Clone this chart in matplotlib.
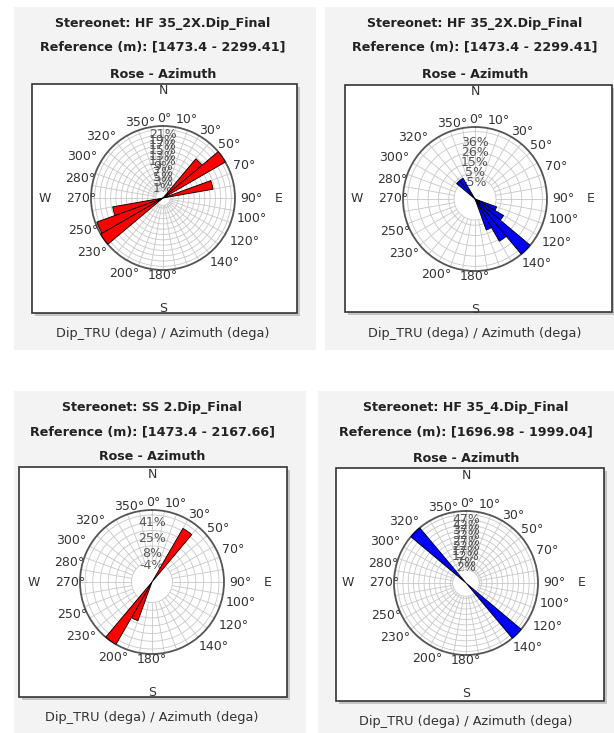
import numpy as np
import matplotlib.pyplot as plt
from matplotlib.patches import Rectangle

# --- panel text -------------------------------------------------------------
titles = ["Stereonet: HF 35_2X.Dip_Final", "Stereonet: HF 35_2X.Dip_Final",
          "Stereonet: SS 2.Dip_Final", "Stereonet: HF 35_4.Dip_Final"]
ref_ranges = ["Reference (m): [1473.4 - 2299.41]", "Reference (m): [1473.4 - 2299.41]",
              "Reference (m): [1473.4 - 2167.66]", "Reference (m): [1696.98 - 1999.04]"]
subtitle = "Dip_TRU (dega) / Azimuth (dega)"

# --- rose data: bin start azimuth (deg) and frequency (%) --------------------
rose1_bins = [40, 50, 70, 230, 240, 250]
rose1_freq = [16.5, 24.4, 16.4, 24.4, 23.8, 16.5]

rose2_bins = [110, 120, 130, 140, 150, 310, 320]
rose2_freq = [2.0, 12.0, 51.0, 27.7, 12.0, 3.0, 3.0]

rose3_bins = [30, 200, 210]
rose3_freq = [44.0, 22.0, 54.8]

rose4_bins = [130, 310]
rose4_freq = [55.4, 55.4]

# ring labels (%) on each rose, and the ring spacing
rose1_rings = [1, 3, 5, 7, 9, 11, 13, 15, 17, 19, 21]
rose2_rings = [-5, 5, 15, 26, 36]
rose3_rings = [-4, 8, 25, 41]
rose4_rings = [2, 7, 12, 17, 22, 27, 32, 37, 42, 47]
ring_steps = [2.0, 10.3, 8.25, 5.0]
ring_starts = [1.0, 5.2, 8.25, 2.0]

# azimuth labels around the net
azi_labels = ["350°", "0°", "10°", "30°", "50°", "70°", "90°", "100°", "120°",
              "140°", "180°", "200°", "230°", "250°", "270°", "280°", "300°", "320°"]

# --- layout (pixels, origin top-left) ----------------------------------------
W, H = 614, 733
fig = plt.figure(figsize=(W / 100, H / 100), dpi=100)
fig.patch.set_facecolor("white")


def fx(x):
    return x / W


def fy(y):
    return 1 - y / H


def rect(x0, y0, x1, y1, **kw):
    fig.patches.append(Rectangle((fx(x0), fy(y1)), fx(x1) - fx(x0), fy(y0) - fy(y1),
                                 transform=fig.transFigure, **kw))


gray_boxes = [(14, 7, 316, 350), (325, 7, 614, 350), (14, 391, 306, 733), (318, 391, 614, 733)]
plot_boxes = [(32, 84, 297, 313), (345, 85, 612, 312), (19, 467, 287, 697), (336, 468, 604, 701)]
centers = [(163, 198), (475, 199), (152, 582), (466, 583)]
title_y = [(24, 47, 74), (24, 47, 74), (407, 432, 457), (408, 432, 458)]
sub_y = [333, 333, 717, 722]
RADIUS = 72

# (px per %, px radius of 0 %)
scales = [(2.65, 7.35), (1.0, 21.0), (0.94, 20.5), (1.06, 13.3)]
colors = ["#ff0000", "#0000ff", "#ff0000", "#0000ff"]
bins = [rose1_bins, rose2_bins, rose3_bins, rose4_bins]
freqs = [rose1_freq, rose2_freq, rose3_freq, rose4_freq]
rings = [rose1_rings, rose2_rings, rose3_rings, rose4_rings]

# label angle (deg) and distance from centre (in net radii)
azi_pos = [343, 1, 17, 35, 51, 68, 90, 103, 118, 136, 180, 207, 232, 248, 270, 283, 297, 315]
azi_dist = [1.10, 1.11, 1.14, 1.14, 1.19, 1.22, 1.23, 1.26, 1.29, 1.24, 1.08, 1.18, 1.24,
            1.20, 1.13, 1.18, 1.26, 1.21]

for i in range(4):
    g = gray_boxes[i]
    rect(*g, facecolor="#f3f3f3", edgecolor="none", zorder=-10)
    b = plot_boxes[i]
    rect(b[0] + 3, b[1] + 3, b[2] + 3, b[3] + 3, facecolor="#c4c4c4", edgecolor="none", zorder=-6)
    rect(*b, facecolor="white", edgecolor="#333333", linewidth=1.2, zorder=-5)

    cx, cy = centers[i]
    fig.text(fx(cx), fy(title_y[i][0]), titles[i], ha="center", va="center",
             fontsize=9.1, fontweight="bold", color="#222222")
    fig.text(fx(cx), fy(title_y[i][1]), ref_ranges[i], ha="center", va="center",
             fontsize=9.2, fontweight="bold", color="#222222")
    fig.text(fx(cx), fy(title_y[i][2]), "Rose - Azimuth", ha="center", va="center",
             fontsize=9.1, fontweight="bold", color="#222222")
    fig.text(fx(cx), fy(sub_y[i]), subtitle, ha="center", va="center",
             fontsize=9.3, color="#333333")

    ax = fig.add_axes([fx(cx - RADIUS), fy(cy + RADIUS), 2 * RADIUS / W, 2 * RADIUS / H],
                      projection="polar")
    ax.set_theta_zero_location("N")
    ax.set_theta_direction(-1)
    s, z = scales[i]
    r0 = -z / s
    rmax = (RADIUS - z) / s
    ax.set_rorigin(r0)
    ax.set_rlim(0, rmax)
    ring_vals = np.arange(ring_starts[i], rmax - 0.5, ring_steps[i])
    ax.set_rgrids(ring_vals, labels=[""] * len(ring_vals))
    ax.set_thetagrids(np.arange(0, 360, 10), labels=[])
    ax.grid(True, color="#c8c8c8", linewidth=0.6)
    ax.spines["polar"].set_color("#555555")
    ax.spines["polar"].set_linewidth(1.3)
    ax.spines["inner"].set_color("#c8c8c8")
    ax.spines["inner"].set_linewidth(0.6)
    ax.set_facecolor("white")

    theta = np.deg2rad(np.array(bins[i]) + 5)
    heights = np.array(freqs[i]) - r0
    ax.bar(theta, heights, width=np.deg2rad(10), bottom=r0, color=colors[i],
           edgecolor="black", linewidth=0.6, clip_on=False, zorder=3)

    # percentage labels stacked along north
    for v in rings[i]:
        ax.text(0, v, f"{v}%", ha="center", va="center", fontsize=9,
                color="#555555", zorder=2, clip_on=False)

    # azimuth labels
    for lab, a, d in zip(azi_labels, azi_pos, azi_dist):
        ar = np.deg2rad(a)
        ax.text(0.5 + 0.5 * d * np.sin(ar), 0.5 + 0.5 * d * np.cos(ar), lab,
                transform=ax.transAxes, ha="center", va="center", fontsize=9, color="#333333")

    # compass letters
    for lab, a, d in [("N", 0, 1.49), ("E", 90, 1.60), ("S", 180, 1.53), ("W", 270, 1.64)]:
        ar = np.deg2rad(a)
        ax.text(0.5 + 0.5 * d * np.sin(ar), 0.5 + 0.5 * d * np.cos(ar), lab,
                transform=ax.transAxes, ha="center", va="center", fontsize=9, color="#333333")

fig.savefig("out.png", dpi=100)
